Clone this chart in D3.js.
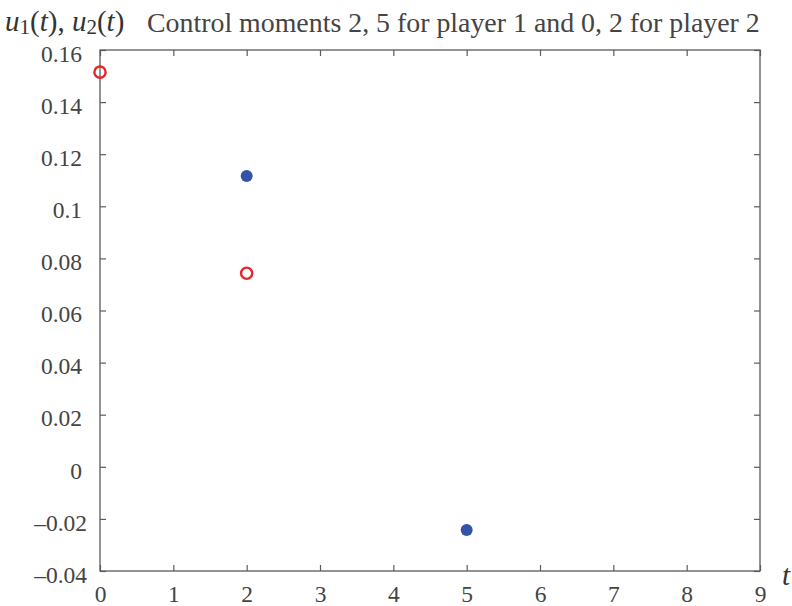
<!DOCTYPE html>
<html>
<head>
<meta charset="utf-8">
<script src="https://cdn.jsdelivr.net/npm/d3@7"></script>
<style>
  html, body { margin: 0; padding: 0; background: #fff; }
  svg { display: block; }
  svg text { font-family: "Liberation Serif", "Times New Roman", serif !important; }
</style>
</head>
<body>
<svg id="chart" width="792" height="606"></svg>
<script>
// Control values of each player at the moments they act
const player1Moments = [2, 5];
const player1Values = [0.1116, -0.0243];
const player2Moments = [0, 2];
const player2Values = [0.1515, 0.0743];

const xTicks = [0, 1, 2, 3, 4, 5, 6, 7, 8, 9];
const yTicks = [-0.04, -0.02, 0, 0.02, 0.04, 0.06, 0.08, 0.1, 0.12, 0.14, 0.16];
const yTickLabels = ["\u20130.04", "\u20130.02", "0", "0.02", "0.04", "0.06", "0.08", "0.1", "0.12", "0.14", "0.16"];

const titleText = "Control moments 2, 5 for player 1 and 0, 2 for player 2";

const svg = d3.select("#chart");
const plotLeft = 100, plotRight = 760, plotTop = 50, plotBottom = 571;
const axisColor = "#5a5a5a";
const textColor = "#444";

const x = d3.scaleLinear().domain([0, 9]).range([plotLeft, plotRight]);
const y = d3.scaleLinear().domain([-0.04, 0.16]).range([plotBottom, plotTop]);

// frame
svg.append("rect")
  .attr("x", plotLeft).attr("y", plotTop)
  .attr("width", plotRight - plotLeft).attr("height", plotBottom - plotTop)
  .attr("fill", "none").attr("stroke", axisColor).attr("stroke-width", 1.3);

// bottom axis with inward ticks
const xAxis = d3.axisBottom(x).tickValues(xTicks).tickSize(-6).tickPadding(14).tickFormat(d3.format("d"));
const gx = svg.append("g").attr("transform", `translate(0,${plotBottom})`).call(xAxis);
// top ticks
const gxt = svg.append("g").attr("transform", `translate(0,${plotTop})`)
  .call(d3.axisTop(x).tickValues(xTicks).tickSize(-6).tickFormat(""));
// left axis
const yAxis = d3.axisLeft(y).tickValues(yTicks).tickSize(-6).tickPadding(18)
  .tickFormat((d, i) => yTickLabels[i]);
const gy = svg.append("g").attr("transform", `translate(${plotLeft},0)`).call(yAxis);
// right ticks
const gyr = svg.append("g").attr("transform", `translate(${plotRight},0)`)
  .call(d3.axisRight(y).tickValues(yTicks).tickSize(-6).tickFormat(""));

[gx, gxt, gy, gyr].forEach(g => {
  g.select(".domain").remove();
  g.selectAll(".tick line").attr("stroke", axisColor).attr("stroke-width", 1.2);
  g.selectAll(".tick text")
    .attr("fill", textColor)
    .style("font-size", "23.5px");
});
gx.selectAll(".tick text").attr("dy", "0.71em");
gy.selectAll(".tick text").attr("dy", "0.48em")
  .attr("dx", d => d < 0 ? 5 : 0);

// player 1: filled blue dots
svg.append("g").selectAll("circle")
  .data(player1Moments.map((t, i) => [t, player1Values[i]]))
  .join("circle")
  .attr("cx", d => x(d[0])).attr("cy", d => y(d[1]))
  .attr("r", 6).attr("fill", "#3353a8");

// player 2: open red circles
svg.append("g").selectAll("circle")
  .data(player2Moments.map((t, i) => [t, player2Values[i]]))
  .join("circle")
  .attr("cx", d => x(d[0])).attr("cy", d => y(d[1]))
  .attr("r", 5.6).attr("fill", "none")
  .attr("stroke", "#e8252a").attr("stroke-width", 2.4);

// vertical axis label u1(t), u2(t)
const yl = svg.append("text").attr("x", 5).attr("y", 31)
  .attr("fill", "#333").style("font-size", "29px");
yl.append("tspan").style("font-style", "italic").text("u");
yl.append("tspan").attr("dy", 3).style("font-size", "21px").text("1");
yl.append("tspan").attr("dy", -3).text("(");
yl.append("tspan").style("font-style", "italic").text("t");
yl.append("tspan").text("), ");
yl.append("tspan").style("font-style", "italic").text("u");
yl.append("tspan").attr("dy", 3).style("font-size", "21px").text("2");
yl.append("tspan").attr("dy", -3).text("(");
yl.append("tspan").style("font-style", "italic").text("t");
yl.append("tspan").text(")");

// title, sized to span from after the axis label to the right edge of the frame
const title = svg.append("text").attr("x", 147).attr("y", 32)
  .attr("fill", textColor).style("font-size", "24px")
  .text(titleText);
const natural = title.node().getComputedTextLength();
title.style("font-size", (24 * 613 / natural).toFixed(2) + "px");

// horizontal axis label t
svg.append("text").attr("x", 782).attr("y", 585)
  .attr("fill", "#333").style("font-size", "29px").style("font-style", "italic")
  .text("t");
</script>
</body>
</html>
